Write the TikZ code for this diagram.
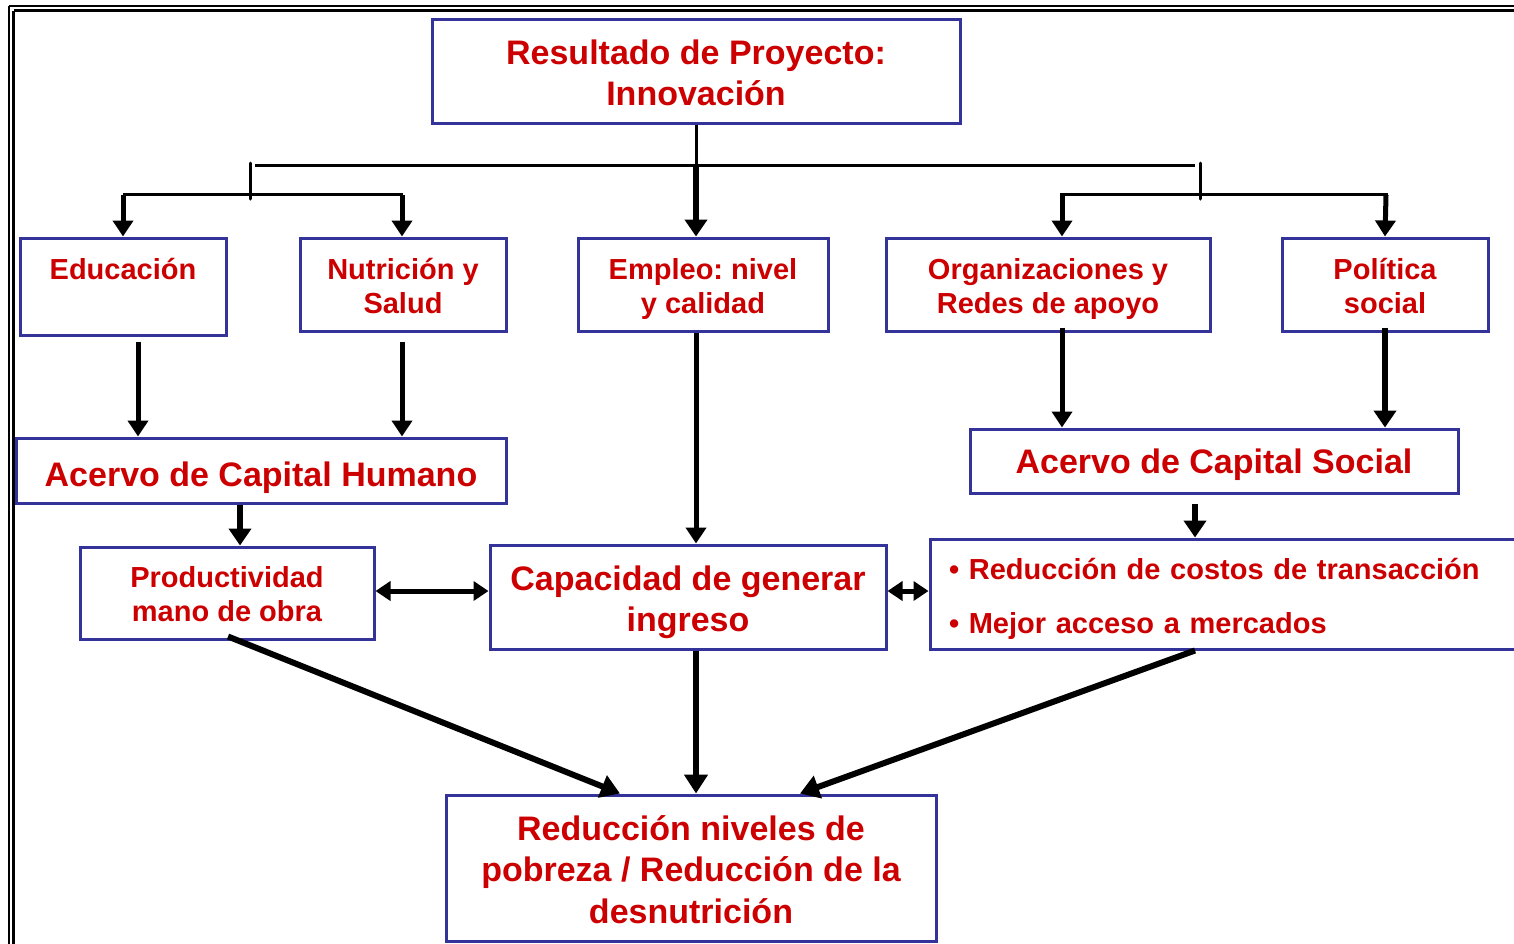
\documentclass[tikz,border=0pt]{standalone}
\usepackage{fontspec}
\setmainfont{Liberation Sans}
\frenchspacing
\usetikzlibrary{arrows.meta}
\definecolor{bordblue}{RGB}{51,51,153}
\definecolor{txtred}{RGB}{204,0,0}
\begin{document}
\begin{tikzpicture}[x=1pt,y=-1pt,
  box/.style={draw=bordblue, line width=3pt, text=txtred, align=center, inner sep=0pt},
  small/.style={font=\fontsize{29}{34}\selectfont\bfseries},
  big/.style={font=\fontsize{34}{41.5}\selectfont\bfseries},
  conn/.style={line width=3pt},
  arr/.style={line width=5pt, -{Triangle[length=16pt,width=20pt]}},
  thickarr/.style={line width=6.5pt, -{Triangle[length=17pt,width=22pt]}},
  diag/.style={line width=6pt, -{Triangle[length=19pt,width=23pt]}},
  dbl/.style={line width=5pt, {Triangle[length=15pt,width=19pt]}-{Triangle[length=15pt,width=19pt]}}
]
\clip (0,0) rectangle (1514,943);
\fill[white] (0,0) rectangle (1514,943);
% double frame
\draw[line width=2.5pt] (9,6) -- (1540,6);
\draw[line width=2.5pt] (9,6) -- (9,960);
\draw[line width=2.5pt] (13.5,10.5) -- (1540,10.5);
\draw[line width=2.5pt] (13.5,10.5) -- (13.5,960);

% nodes
\node[box,big,minimum width=528pt,minimum height=104pt,text height=71.5pt,text depth=2.1pt] (top) at (696,71) {Resultado de Proyecto:\\Innovación};
\node[box,small,minimum width=206pt,minimum height=97pt,text height=26pt,text depth=40.2pt] (edu) at (123,286.5) {Educación};
\node[box,small,minimum width=206pt,minimum height=93pt,text height=62pt,text depth=4.2pt] (nut) at (403,284.5) {Nutrición y\\Salud};
\node[box,small,minimum width=250pt,minimum height=93pt,text height=62pt,text depth=4.2pt] (emp) at (703,284.5) {Empleo: nivel\\y calidad};
\node[box,small,minimum width=324pt,minimum height=93pt,text height=62pt,text depth=4.2pt] (org) at (1048,284.5) {Organizaciones y\\Redes de apoyo};
\node[box,small,minimum width=206pt,minimum height=93pt,text height=62pt,text depth=4.2pt] (pol) at (1385,284.5) {Política\\social};
\node[box,big,minimum width=490pt,minimum height=65pt,text height=33pt,text depth=1.6pt] (ach) at (261,470.5) {Acervo de Capital Humano};
\node[box,big,minimum width=488pt,minimum height=64pt,text height=28pt,text depth=3.6pt] (soc) at (1214,461) {Acervo de Capital Social};
\node[box,small,minimum width=294pt,minimum height=92pt,text height=60pt,text depth=3.2pt] (prod) at (227,593) {Productividad\\mano de obra};
\node[box,big,minimum width=396pt,minimum height=104pt,text height=71.5pt,text depth=2.1pt] (cap) at (688,597) {Capacidad de generar\\ingreso};
\node[box,minimum width=600pt,minimum height=110pt,align=left,text width=562pt,text height=26pt,text depth=55.2pt,font=\fontsize{29}{54}\selectfont\bfseries] (red) at (1230,594) {• Reducción de costos de transacción\\• Mejor acceso a mercados};
\node[box,big,minimum width=490pt,minimum height=146pt,text height=113pt,text depth=2.6pt] (bot) at (691,868) {Reducción niveles de\\pobreza / Reducción de la\\desnutrición};

% branching
\coordinate (hub) at (696,165);
\coordinate (hL) at (255,165);
\coordinate (hR) at (1195,165);
\coordinate (tL1) at (250,163);
\coordinate (tL2) at (250,199);
\coordinate (tR1) at (1200,163);
\coordinate (tR2) at (1200,199);
\coordinate (bL1) at (123,194);
\coordinate (bL2) at (403,194);
\coordinate (bR1) at (1060,194);
\coordinate (bR2) at (1388,194);

\draw[conn] (top.south) -- (hub);
\draw[conn] (hL) -- (hR);
\draw[conn,line cap=round] (tL1) -- (tL2);
\draw[conn,line cap=round] (tR1) -- (tR2);
\draw[conn] (bL1) -- (bL2);
\draw[conn] (bR1) -- (bR2);
\draw[arr] ([yshift=-1pt]bL1) -- (edu.north);
\draw[arr] ([xshift=-1pt,yshift=-1pt]bL2) -- ([xshift=-1pt]nut.north);
\draw[arr] ([xshift=2pt,yshift=-1pt]bR1) -- ([xshift=14pt]org.north);
\draw[arr] ([xshift=-2pt,yshift=-1pt]bR2) -- (pol.north);
\draw[thickarr] (hub) -- ([xshift=-7pt]emp.north);

% middle level
\draw[arr] ([xshift=15pt,yshift=-5pt]edu.south) -- ([xshift=-123pt]ach.north);
\draw[arr] ([xshift=-1pt,yshift=-9pt]nut.south) -- ([xshift=141pt]ach.north);
\draw[arr] ([xshift=14pt,yshift=5pt]org.south) -- ([xshift=-152pt]soc.north);
\draw[thickarr] ([yshift=5pt]pol.south) -- ([xshift=171pt]soc.north);
\draw[arr] ([xshift=-7pt]emp.south) -- ([xshift=8pt]cap.north);
\draw[thickarr] ([xshift=-21pt]ach.south) -- ([xshift=13pt]prod.north);
\draw[thickarr] ([xshift=-19pt,yshift=-9pt]soc.south) -- ([xshift=-35pt]red.north);

% lateral
\draw[dbl] ([yshift=2pt]prod.east) -- ([yshift=6pt]cap.west);
\draw[dbl] ([yshift=6pt]cap.east) -- ([yshift=3pt]red.west);

% to bottom
\draw[diag] ([xshift=1pt,yshift=4pt]prod.south) -- ([xshift=-71pt]bot.north);
\draw[diag] ([xshift=8pt]cap.south) -- ([xshift=5pt]bot.north);
\draw[diag] ([xshift=-35pt]red.south) -- ([xshift=109pt]bot.north);
\end{tikzpicture}
\end{document}
